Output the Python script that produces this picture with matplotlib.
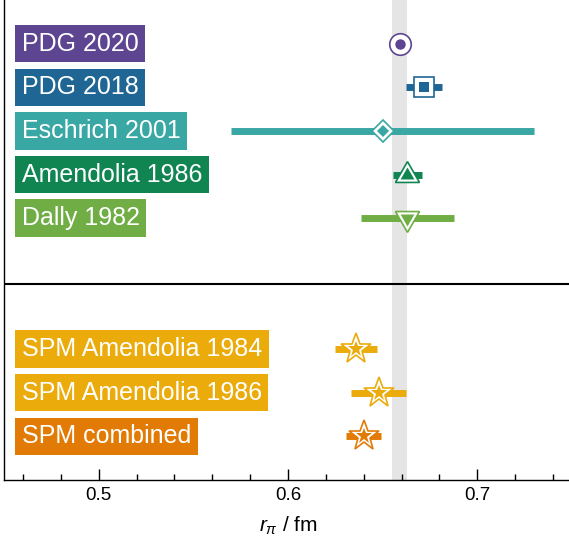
import matplotlib
matplotlib.use("Agg")
import matplotlib.pyplot as plt
import matplotlib.transforms as mtransforms

plt.rcParams["font.family"] = ["Liberation Sans", "DejaVu Sans"]
plt.rcParams["mathtext.fontset"] = "custom"
plt.rcParams["mathtext.rm"] = "Liberation Sans"
plt.rcParams["mathtext.it"] = "Liberation Sans:italic"

# ------------------------------------------------------
# DATA (charge radius of the pion, fm)
# ------------------------------------------------------
labels_exp = ["PDG 2020", "PDG 2018", "Eschrich 2001", "Amendolia 1986", "Dally 1982"]
values_exp = [0.659, 0.672, 0.650, 0.663, 0.663]
errors_exp = [0.004, 0.0095, 0.080, 0.0078, 0.0247]
colors_exp = ["#5e4592", "#1f6694", "#39a7a3", "#108552", "#70ae45"]

labels_spm = ["SPM Amendolia 1984", "SPM Amendolia 1986", "SPM combined"]
values_spm = [0.636, 0.648, 0.640]
errors_spm = [0.011, 0.0145, 0.0092]
colors_spm = ["#ebab0b", "#ebab0b", "#e27b06"]

pdg_value = 0.659
pdg_error = 0.004

# marker: (shape, outer size, inner size)
markers_exp = [("o", 15.5, 7.5), ("s", 14.0, 7.2), ("D", 11.5, 6.3),
               ((3, 0, 0), 20.0, 11.5), ((3, 0, 180), 20.0, 11.5)]
markers_spm = [("*", 23.0, 12.0)] * 3

# ------------------------------------------------------
# FIGURE
# ------------------------------------------------------
fig = plt.figure(figsize=(5.69, 5.45), dpi=100)
ax = fig.add_axes([4 / 569, 65 / 545, 568 / 569, 480 / 545])

ax.set_xlim(0.45, 0.75)
ax.set_ylim(0, 11)

ax.axvspan(pdg_value - pdg_error, pdg_value + pdg_error, color="#e5e5e5", zorder=0, lw=0)
ax.axhline(4.5, color="black", lw=1.5, zorder=1)

rows_exp = [10 - i for i in range(len(labels_exp))]
rows_spm = [3 - i for i in range(len(labels_spm))]

trans = mtransforms.blended_transform_factory(ax.transAxes, ax.transData)


def draw_rows(rows, labels, values, errors, colors, markers):
    for y, lab, v, e, c, (m, s_out, s_in) in zip(rows, labels, values, errors, colors, markers):
        ax.hlines(y, v - e, v + e, color=c, lw=5, capstyle="butt", zorder=2)
        ax.plot(v, y, marker=m, ms=s_out, mfc="white", mec=c, mew=1.2, ls="none", zorder=3)
        ax.plot(v, y, marker=m, ms=s_in, mfc=c, mec=c, mew=0, ls="none", zorder=4)
        ax.text(0.031, y, lab, transform=trans, ha="left", va="center",
                fontsize=18, color="white",
                bbox=dict(boxstyle="square,pad=0.27", fc=c, ec="none"))


draw_rows(rows_exp, labels_exp, values_exp, errors_exp, colors_exp, markers_exp)
draw_rows(rows_spm, labels_spm, values_spm, errors_spm, colors_spm, markers_spm)

# ------------------------------------------------------
# AXES STYLE
# ------------------------------------------------------
ax.spines["top"].set_visible(False)
ax.spines["right"].set_visible(False)
ax.spines["left"].set_linewidth(1.0)
ax.spines["bottom"].set_linewidth(1.0)
ax.set_yticks([])
ax.set_xticks([0.5, 0.6, 0.7])
ax.set_xticklabels(["0.5", "0.6", "0.7"])
ax.set_xticks([0.46, 0.48, 0.52, 0.54, 0.56, 0.58, 0.62, 0.64, 0.66, 0.68, 0.72, 0.74], minor=True)
ax.tick_params(axis="x", which="major", direction="in", length=7.7, width=1.0, labelsize=13.5, pad=5)
ax.tick_params(axis="x", which="minor", direction="in", length=4, width=1.0)
ax.set_xlabel(r"$r_\pi$ / fm", fontsize=15, labelpad=8)

fig.savefig("out.png", dpi=100)
print("saved out.png")
